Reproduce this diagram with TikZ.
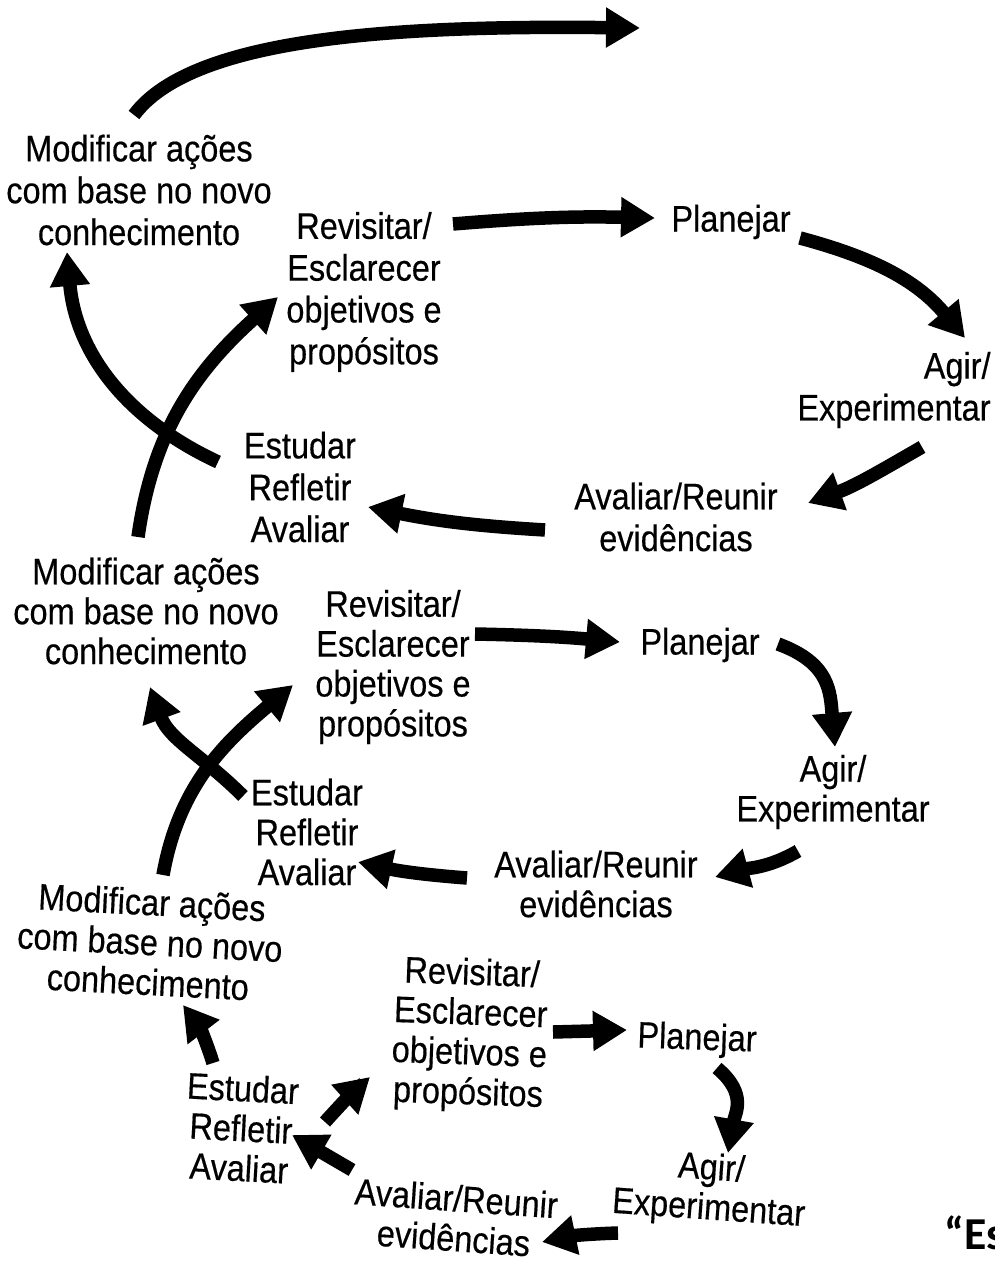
\documentclass[tikz,border=0pt]{standalone}
\usepackage{fontspec}
\setmainfont[FakeStretch=0.88, FakeBold=0.4]{Liberation Sans}
\newfontfamily\quotefont{Carlito}
\usetikzlibrary{arrows.meta}

\begin{document}
\begin{tikzpicture}[x=0.2mm, y=0.2mm, font=\fontsize{21}{23.8}\selectfont,
  stage/.style={align=center, inner sep=0pt},
  low/.style={stage, font=\fontsize{21}{22.7}\selectfont},
  arr/.style={-{Triangle[length=6.8mm, width=7.6mm]}, line width=2.7mm}]
\fill[white] (0,0) rectangle (994,-1266);
\useasboundingbox (0,0) rectangle (994,-1266);
% first turn (top)
\node[stage] (mod1) at (139,-190) {Modificar ações\\com base no novo\\conhecimento};
\node[stage] (rev1) at (364,-292) {Revisitar/\\Esclarecer\\objetivos e\\propósitos};
\node[stage] (plan1) at (731,-222) {Planejar};
\node[stage, align=right] (agir1) at (894,-390) {Agir/\\Experimentar};
\node[stage] (avl1) at (676,-517) {Avaliar/Reunir\\evidências};
\node[stage] (est1) at (300,-487) {Estudar\\Refletir\\Avaliar};
\coordinate (exit) at (640,-28);
% second turn
\node[low] (mod2) at (146,-611) {Modificar ações\\com base no novo\\conhecimento};
\node[low] (rev2) at (393,-667) {Revisitar/\\Esclarecer\\objetivos e\\propósitos};
\node[low] (plan2) at (700,-645) {Planejar};
\node[low] (agir2) at (833,-792) {Agir/\\Experimentar};
\node[low] (avl2) at (596,-884) {Avaliar/Reunir\\evidências};
\node[low] (est2) at (307,-832) {Estudar\\Refletir\\Avaliar};
% third turn (bottom), a little tilted
\node[low, rotate=-3] (mod3) at (150,-942) {Modificar ações\\com base no novo\\conhecimento};
\node[low, rotate=-2] (rev3) at (470,-1035) {Revisitar/\\Esclarecer\\objetivos e\\propósitos};
\node[low, rotate=-2] (plan3) at (697,-1040) {Planejar};
\node[low, rotate=-4] (agir3) at (710,-1190) {Agir/\\Experimentar};
\node[low, rotate=-4] (avl3) at (455,-1218) {Avaliar/Reunir\\evidências};
\node[low, rotate=-3] (est3) at (241,-1128) {Estudar\\Refletir\\Avaliar};
\node[anchor=base west, inner sep=0pt, font=\quotefont\bfseries\fontsize{26}{30}\selectfont] (quote) at (944,-1249) {“Es};

\draw[arr] ([shift={(-5,75)}]mod1.center) .. controls +(56,75) and +(-260,3) .. (exit);
\draw[arr] ([shift={(89,68)}]rev1.center) to[bend left=3] ([shift={(-76,4)}]plan1.center);
\draw[arr] ([shift={(69,-16)}]plan1.center) to[out=-15,in=130] ([shift={(71,52)}]agir1.center);
\draw[arr] ([shift={(28,-57)}]agir1.center) to[out=210,in=20] ([shift={(132,14)}]avl1.center);
\draw[arr] ([shift={(-131,-13)}]avl1.center) to[bend left=4] ([shift={(68,-20)}]est1.center);
\draw[arr] ([shift={(-82,25)}]est1.center) to[out=155,in=-85] ([shift={(-72,-62)}]mod1.center);
\draw[arr] ([shift={(-8,74)}]mod2.center) to[out=82,in=222] ([shift={(-86,-5)}]rev1.center);

\draw[arr] ([shift={(82,33)}]rev2.center) to[bend left=2] ([shift={(-80,3)}]plan2.center);
\draw[arr] ([shift={(78,1)}]plan2.center) to[out=-20,in=95,looseness=1.2] ([shift={(2,45)}]agir2.center);
\draw[arr] ([shift={(-35,-59)}]agir2.center) to[out=210,in=15] ([shift={(119,7)}]avl2.center);
\draw[arr] ([shift={(-129,6)}]avl2.center) to[bend left=4] ([shift={(51,-30)}]est2.center);
\draw[arr] ([shift={(-64,36)}]est2.center) to[out=135,in=-70] ([shift={(4,-76)}]mod2.center);
\draw[arr] ([shift={(13,67)}]mod3.center) to[out=80,in=220] ([shift={(-100,-18)}]rev2.center);

\draw[arr] ([shift={(83,3)}]rev3.center) -- ([shift={(-70,10)}]plan3.center);
\draw[arr] ([shift={(20,-28)}]plan3.center) to[out=-40,in=80,looseness=1.2] ([shift={(18,37)}]agir3.center);
\draw[arr] ([shift={(-92,-43)}]agir3.center) to[bend right=5] ([shift={(87,-24)}]avl3.center);
\draw[arr] ([shift={(-103,48)}]avl3.center) -- ([shift={(51,-7)}]est3.center);
\draw[arr] ([shift={(84,6)}]est3.center) to[bend left=3] ([shift={(-100,-42)}]rev3.center);
\draw[arr] ([shift={(-28,65)}]est3.center) to[bend right=10] ([shift={(33,-63)}]mod3.center);
\end{tikzpicture}
\end{document}
